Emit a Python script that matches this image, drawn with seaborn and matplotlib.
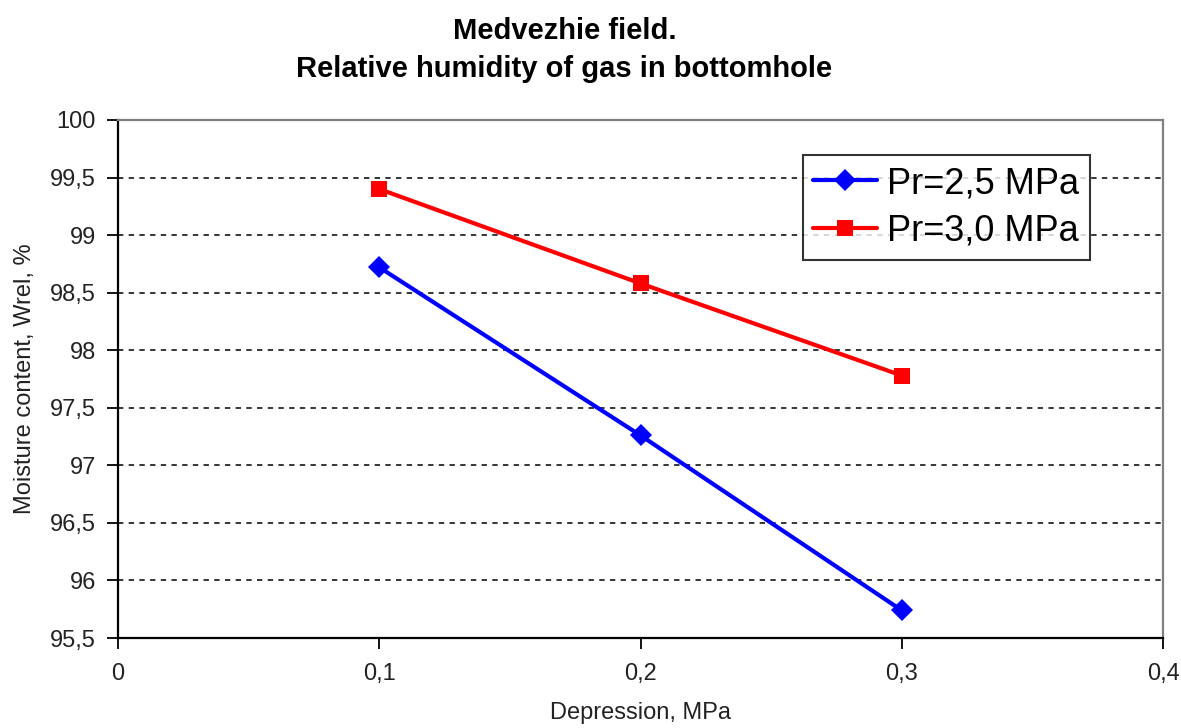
import matplotlib
matplotlib.use("Agg")
import matplotlib.pyplot as plt
import seaborn as sns
import pandas as pd
from matplotlib.ticker import FuncFormatter, MultipleLocator

# ---- data ----
depression = [0.1, 0.2, 0.3]
humidity_25 = [98.72, 97.26, 95.74]
humidity_30 = [99.40, 98.58, 97.78]
series_names = ["Pr=2,5 MPa", "Pr=3,0 MPa"]
series_colors = ["#0000FF", "#FF0000"]
title_lines = ["Medvezhie field.", "Relative humidity of gas in bottomhole"]
x_label = "Depression, MPa"
y_label = "Moisture content, Wrel, %"

df25 = pd.DataFrame({"x": depression, "y": humidity_25, "series": series_names[0]})
df30 = pd.DataFrame({"x": depression, "y": humidity_30, "series": series_names[1]})

sns.set_style("white")
plt.rcParams['font.family'] = ['Liberation Sans', 'DejaVu Sans']

fig = plt.figure(figsize=(11.81, 7.28), dpi=100)
ax = fig.add_axes([0.0999, 0.1236, 0.8849, 0.7116])

sns.lineplot(data=df25, x="x", y="y", color=series_colors[0], marker="D",
             markersize=11.5, markeredgewidth=0, linewidth=3,
             label=series_names[0], ax=ax, zorder=3)
sns.lineplot(data=df30, x="x", y="y", color=series_colors[1], marker="s",
             markersize=12, markeredgewidth=0, linewidth=3,
             label=series_names[1], ax=ax, zorder=3)

ax.set_xlim(0, 0.4)
ax.set_ylim(95.5, 100)
ax.xaxis.set_major_locator(MultipleLocator(0.1))
ax.yaxis.set_major_locator(MultipleLocator(0.5))
fmt = FuncFormatter(lambda v, p: f"{round(v, 2):g}".replace('.', ','))
ax.xaxis.set_major_formatter(fmt)
ax.yaxis.set_major_formatter(fmt)

ax.tick_params(axis='both', direction='out', length=8, width=1.3,
               color='black', labelsize=17, labelcolor='#222222', left=True, bottom=True)
ax.tick_params(axis='x', pad=10)
ax.tick_params(axis='y', pad=8)

ax.set_axisbelow(True)
ax.yaxis.grid(True, color='black', linestyle=(0, (3.5, 3.5)), linewidth=1.1)
ax.xaxis.grid(False)

for s in ['left', 'bottom']:
    ax.spines[s].set_color('black')
    ax.spines[s].set_linewidth(1.6)
for s in ['top', 'right']:
    ax.spines[s].set_color('#808080')
    ax.spines[s].set_linewidth(1.6)

ax.set_xlabel(x_label, fontsize=17, color='#222222', labelpad=12)
ax.set_ylabel(y_label, fontsize=17, color='#222222', labelpad=10)

fig.text(0.478, 0.958, title_lines[0], ha='center', va='center',
         fontsize=21, fontweight='bold', color='black')
fig.text(0.478, 0.905, title_lines[1], ha='center', va='center',
         fontsize=21, fontweight='bold', color='black')

leg = ax.legend(loc='upper left', bbox_to_anchor=(0.655, 0.932), borderaxespad=0,
                fontsize=26, frameon=True, fancybox=False, shadow=False,
                handlelength=1.75, handletextpad=0.3, borderpad=0.3, labelspacing=0.35)
leg.get_frame().set_edgecolor('black')
leg.get_frame().set_linewidth(1.5)
for t in leg.get_texts():
    t.set_color('black')

fig.savefig("out.png", dpi=100)
